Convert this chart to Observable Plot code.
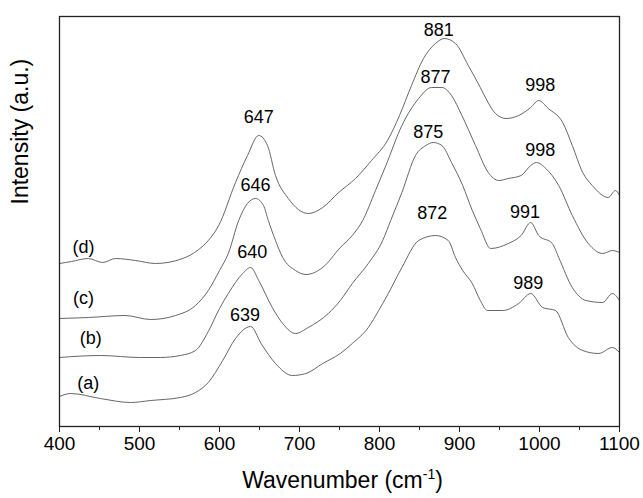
<!DOCTYPE html>
<html><head><meta charset="utf-8">
<script src="https://cdn.jsdelivr.net/npm/d3@7"></script>
<script src="https://cdn.jsdelivr.net/npm/@observablehq/plot@0.6"></script>
<style>body{margin:0;background:#fff}</style>
</head><body><div id="chart"></div>
<script>
// Spectrum (d)
const dWn = [400,415,436,454,470,495,520,554,574,586,599,620,635,649,660,670,686,711,729,749,770,790,810,825,840,855,870,881,895,911,926,933,945,958,974,989,999,1011,1029,1041,1054,1066,1086,1095,1100];
const dInt = [163,165,168,164,168,166,163,168,177,186,201,244,271,291,281,251,228,213,219,234,248,266,286,311,341,368,383,388,383,361,339,328,313,308,311,319,326,318,304,281,254,241,229,236,231];
// Spectrum (c)
const cWn = [400,436,482,514,545,570,586,600,611,624,635,645,655,661,670,679,695,708,729,751,766,779,795,808,828,849,865,878,890,903,920,936,949,961,977,989,996,1008,1024,1041,1061,1079,1091,1100];
const cInt = [108,109,111,107,111,121,136,156,173,206,223,228,221,206,186,169,156,152,159,179,191,206,236,261,301,328,339,339,331,311,281,254,246,248,251,261,264,258,241,211,183,173,176,174];
// Spectrum (b)
const bWn = [400,451,501,526,551,570,586,600,611,629,639,649,666,679,695,711,736,751,766,786,804,814,828,845,858,867,878,890,904,916,926,939,961,977,989,999,1016,1024,1041,1058,1079,1091,1100];
const bInt = [69,71,69,69,71,76,95,118,133,153,159,146,119,103,93,99,113,126,143,163,186,206,234,271,281,284,281,264,241,216,198,178,183,191,204,191,183,169,139,126,124,133,126];
// Spectrum (a)
const aWn = [400,414,451,489,514,551,570,586,604,620,639,652,670,691,708,729,751,766,786,799,811,828,849,870,886,895,904,916,926,935,954,974,989,1004,1020,1036,1054,1074,1091,1100];
const aInt = [30,33,28,24,26,29,34,44,66,88,100,83,63,51,53,63,73,83,99,116,133,159,186,191,186,169,156,143,126,116,116,123,133,119,116,89,76,73,79,74];

// Peak annotations
const peakText = ["647","646","640","639","881","877","875","872","998","998","991","989"];
const peakWn = [649,645,641,632,874,870,861,866,1001,1001,982,986];
const peakInt = [309,241,174,111,396,349,294,213,341,276,214,143];
// Series labels
const seriesText = ["(d)","(c)","(b)","(a)"];
const seriesWn = [430,430,439,436];
const seriesInt = [179,128,88,43];

const majorTicks = [400,500,600,700,800,900,1000,1100];
const minorTicks = [450,550,650,750,850,950,1050];

const spectra = [];
[["d",dWn,dInt],["c",cWn,cInt],["b",bWn,bInt],["a",aWn,aInt]].forEach(([s,w,v]) => {
  w.forEach((x,i) => spectra.push({s, wn: x, v: v[i]}));
});
const peaks = peakText.map((t,i) => ({t, wn: peakWn[i], v: peakInt[i]}));
const series = seriesText.map((t,i) => ({t, wn: seriesWn[i], v: seriesInt[i]}));

const font = "Liberation Sans, Arial, Helvetica, sans-serif";
const chart = Plot.plot({
  width: 643, height: 498,
  marginLeft: 59, marginRight: 24, marginTop: 16, marginBottom: 72,
  style: {fontFamily: font, background: "#fff", color: "#000"},
  x: {domain: [400, 1100]},
  y: {domain: [0, 410], axis: null},
  marks: [
    Plot.line(spectra, {x: "wn", y: "v", z: "s", stroke: "#555", strokeWidth: 0.9, curve: "monotone-x"}),
    Plot.text(peaks, {x: "wn", y: "v", text: "t", fontSize: 18, fill: "#000"}),
    Plot.text(series, {x: "wn", y: "v", text: "t", fontSize: 18, fill: "#000"}),
    Plot.axisX(majorTicks, {tickSize: 6, tickFormat: () => "", stroke: "#222", label: null}),
    Plot.axisX(minorTicks, {tickSize: 4, tickFormat: () => "", stroke: "#222", label: null}),
    Plot.text(majorTicks, {x: d => d, frameAnchor: "bottom", dy: 23, text: d => String(d), fontSize: 19, fill: "#000"}),
    Plot.frame({stroke: "#222", strokeWidth: 1.3}),
    Plot.text(["Intensity (a.u.)"], {frameAnchor: "left", text: d => d, rotate: -90, dx: -39, dy: -17, fontSize: 23, fill: "#000"}),
    Plot.text(["Wavenumber (cm-1)"], {frameAnchor: "bottom", text: d => d, dx: 3, dy: 61, fontSize: 23, fill: "#000"})
  ]
});
// render superscript for the x title
d3.select(chart).selectAll("text").filter(function(){ return this.textContent === "Wavenumber (cm-1)"; })
  .each(function(){
    const t = d3.select(this);
    t.text(null);
    t.append("tspan").text("Wavenumber (cm");
    t.append("tspan").attr("font-size", "14").attr("dy", "-9").text("-1");
    t.append("tspan").attr("dy", "9").text(")");
  });
document.getElementById("chart").appendChild(chart);
</script>
</body></html>
